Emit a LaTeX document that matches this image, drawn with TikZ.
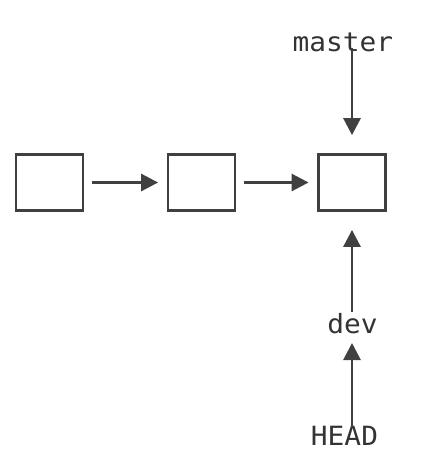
\documentclass[tikz,border=0pt]{standalone}
\usepackage{fontspec}
\setmonofont[FakeStretch=1.05]{DejaVu Sans Mono}
\usetikzlibrary{arrows.meta}
\definecolor{linecol}{HTML}{404040}
\definecolor{textcol}{HTML}{333333}
\begin{document}
\begin{tikzpicture}[x=1pt,y=-1pt,
  commit/.style={draw=linecol, line width=2.8pt, minimum width=67pt, minimum height=56pt, inner sep=0pt},
  arr/.style={draw=linecol, line width=2.8pt, -{Triangle[length=17pt,width=17pt]}},
  lbl/.style={font=\ttfamily\fontsize{26.5}{30}\selectfont, text=textcol, inner sep=0pt, anchor=base}]
\fill[white] (0,0) rectangle (424,469);
\useasboundingbox (0,0) rectangle (424,469);
\node[commit] (b1) at (49.5,182.5) {};
\node[commit] (b2) at (201.5,182.5) {};
\node[commit] (b3) at (352,182.5) {};
\node[lbl] (master) at (343,51) {master};
\node[lbl] (dev) at (352.5,333) {dev};
\node[lbl] (head) at (344.5,445) {HEAD};
\coordinate (mtop) at (352,48);
\coordinate (dtop) at (352,312);
\coordinate (dbot) at (352,343);
\coordinate (htop) at (352,427);
\draw[arr, shorten <=8pt, shorten >=8.5pt] (b1.east) -- (b2.west);
\draw[arr, shorten <=8pt, shorten >=8.5pt] (b2.east) -- (b3.west);
\draw[arr, shorten >=18pt] (mtop) -- (b3.north);
\draw[arr, shorten >=18pt] (dtop) -- (b3.south);
\draw[arr] (htop) -- (dbot);
\end{tikzpicture}
\end{document}
